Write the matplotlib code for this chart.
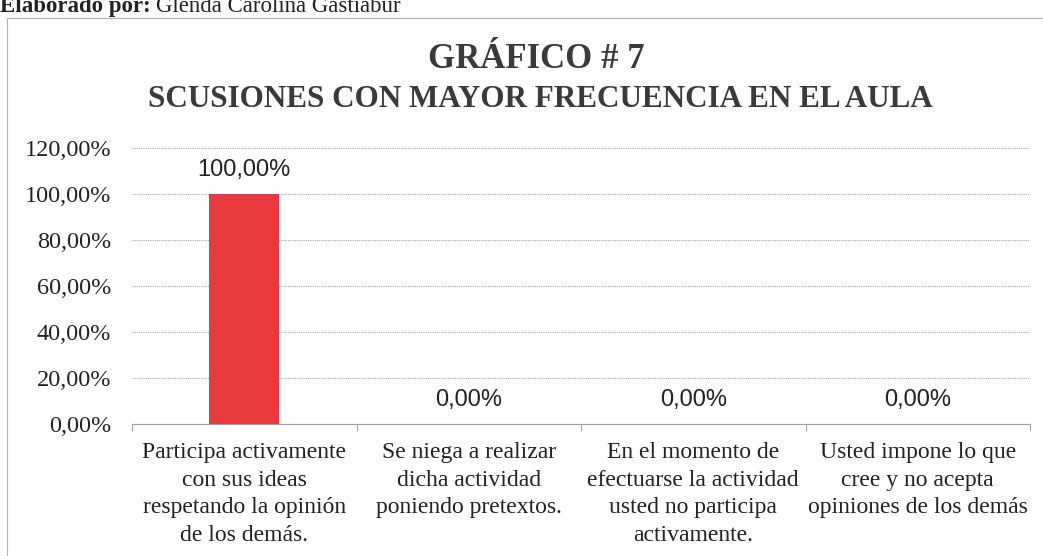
import numpy as np
import matplotlib.pyplot as plt
from matplotlib.patches import Rectangle

# ----------------------------
# Datos
# ----------------------------
categorias = [
    "Participa activamente\ncon sus ideas\nrespetando la opinión\nde los demás.",
    "Se niega a realizar\ndicha actividad\nponiendo pretextos.",
    "En el momento de\nefectuarse la actividad\nusted no participa\nactivamente.",
    "Usted impone lo que\ncree y no acepta\nopiniones de los demás",
]
valores = [1.00, 0.00, 0.00, 0.00]
y_ticks = [0.0, 0.2, 0.4, 0.6, 0.8, 1.0, 1.2]
y_labels = ["0,00%", "20,00%", "40,00%", "60,00%", "80,00%", "100,00%", "120,00%"]

color_barra = "#E9393E"
color_titulo = "#3a3a3a"
serif = "Liberation Serif"
sans = "Liberation Sans"

# ----------------------------
# Figura
# ----------------------------
fig = plt.figure(figsize=(10.43, 5.56), dpi=100)
W, H = 1043, 556

# marco del gráfico
fig.patches.append(Rectangle((7 / W, -0.1), 1.2, 1.1 - 18 / H, transform=fig.transFigure,
                             fill=False, edgecolor="#b0b0b0", lw=0.8))

# encabezado (cortado arriba, como en el original)
fig.text(0 / W, 1 - 12 / H, "Elaborado por:", fontsize=16.5, fontweight="bold",
         family=serif, va="baseline", ha="left", color="#222222")
fig.text(156 / W, 1 - 12 / H, "Glenda Carolina Gastiabur", fontsize=16.5,
         family=serif, va="baseline", ha="left", color="#222222")

# títulos
fig.text(536 / W, 1 - 68 / H, "GRÁFICO # 7", fontsize=25, fontweight="bold",
         family=serif, ha="center", va="baseline", color=color_titulo)
fig.text(540 / W, 1 - 107 / H, "SCUSIONES CON MAYOR FRECUENCIA EN EL AULA", fontsize=22.4,
         fontweight="bold", family=serif, ha="center", va="baseline", color=color_titulo)

ax = fig.add_axes([132 / W, 1 - 424 / H, (1030 - 132) / W, (424 - 148) / H])

x = np.arange(len(categorias))
bars = ax.bar(x, valores, width=0.31, color=color_barra, zorder=2)

for xi, v in zip(x, valores):
    ax.annotate(f"{v * 100:.2f}%".replace(".", ","), xy=(xi, v), xytext=(0, 17),
                textcoords="offset points", ha="center", va="center",
                fontsize=17, family=sans, color="#222222")

ax.set_xlim(-0.5, len(categorias) - 0.5)
ax.set_ylim(0, 1.2)
ax.set_yticks(y_ticks)
ax.set_yticklabels(y_labels, family=serif, fontsize=17.5, color="#222222")
ax.set_xticks(x)
ax.set_xticklabels(categorias, family=serif, fontsize=17.0, color="#222222", linespacing=1.42)
ax.set_xticks(np.arange(-0.5, len(categorias), 1.0), minor=True)

ax.tick_params(axis="y", length=0, pad=15)
ax.tick_params(axis="x", which="major", length=0, pad=13)
ax.tick_params(axis="x", which="minor", length=5, color="#a0a0a0", width=0.8)

ax.grid(True, axis="y", linestyle=(0, (1, 1)), color="#a8a8a8", lw=0.8, zorder=0)
for s in ["left", "right", "top"]:
    ax.spines[s].set_visible(False)
ax.spines["bottom"].set_color("#a0a0a0")
ax.spines["bottom"].set_linewidth(0.8)
ax.set_facecolor("none")

plt.savefig("out.png", dpi=100)
plt.close()
